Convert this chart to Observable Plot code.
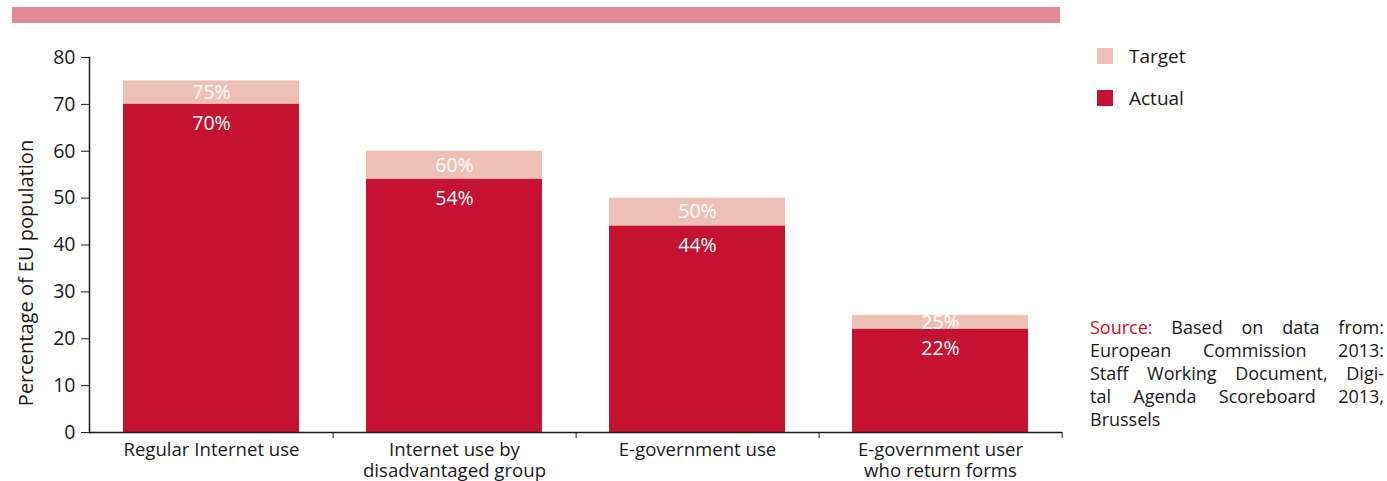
<!DOCTYPE html>
<html>
<head>
<meta charset="utf-8">
<script src="https://cdn.jsdelivr.net/npm/d3@7"></script>
<script src="https://cdn.jsdelivr.net/npm/@observablehq/plot@0.6"></script>
<style>
  html, body { margin: 0; padding: 0; background: #fff; }
  body { font-family: "Open Sans", "Noto Sans", sans-serif; color: #1a1a1a; }
  #wrap { position: relative; width: 1387px; height: 481px; overflow: hidden; }
  #topbar { position: absolute; left: 12px; top: 7px; width: 1048px; height: 16px; background: #e38a96; }
  #chart { position: absolute; left: 0; top: 0; }
  .leg { position: absolute; left: 1097px; font-size: 19px; display: flex; align-items: center; }
  .leg .sw { width: 16px; height: 16px; margin-right: 16px; }
  #source { position: absolute; left: 1090px; top: 316px; width: 294px; font-size: 18px; line-height: 23px; }
  #source div { text-align: justify; text-align-last: justify; white-space: nowrap; }
  #source div.last { text-align-last: left; }
  #source .red { color: #c8102e; }
</style>
</head>
<body>
<div id="wrap">
  <div id="topbar"></div>
  <div id="chart"></div>
  <div class="leg" style="top:43px"><div class="sw" style="background:#eebfb5"></div><span>Target</span></div>
  <div class="leg" style="top:85px"><div class="sw" style="background:#c41230"></div><span>Actual</span></div>
  <div id="source">
    <div><span class="red">Source:</span> Based on data from:</div>
    <div>European Commission 2013:</div>
    <div>Staff Working Document, Digi-</div>
    <div>tal Agenda Scoreboard 2013,</div>
    <div class="last">Brussels</div>
  </div>
</div>
<script>
const categories = [
  "Regular Internet use",
  "Internet use by\ndisadvantaged group",
  "E-government use",
  "E-government user\nwho return forms"
];
const targetValues = [75, 60, 50, 25];
const actualValues = [70, 54, 44, 22];
const yTicks = [0, 10, 20, 30, 40, 50, 60, 70, 80];
const yLabel = "Percentage of EU population";

const data = categories.map((c, i) => ({cat: c, target: targetValues[i], actual: actualValues[i]}));

const W = 1387, H = 481;
const mL = 89, mR = 325, mT = 57, mB = 49;
const halfStep = (W - mL - mR) / categories.length / 2;

const chart = Plot.plot({
  width: W,
  height: H,
  marginLeft: mL,
  marginRight: mR,
  marginTop: mT,
  marginBottom: mB,
  style: {fontFamily: "'Open Sans', 'Noto Sans', sans-serif", fontSize: "19px", color: "#1a1a1a", background: "transparent", overflow: "visible"},
  x: {domain: categories, paddingInner: 0.276, paddingOuter: 0.138},
  y: {domain: [0, 80]},
  marks: [
    Plot.barY(data, {x: "cat", y: "target", fill: "#eebfb5"}),
    Plot.barY(data, {x: "cat", y: "actual", fill: "#c41230"}),
    Plot.text(data, {x: "cat", y: d => (d.target + d.actual) / 2, text: d => d.target + "%", fill: "white", fontSize: 19.5, lineAnchor: "middle"}),
    Plot.text(data, {x: "cat", y: "actual", text: d => d.actual + "%", fill: "white", fontSize: 19.5, lineAnchor: "middle", dy: 19}),
    Plot.axisY({ticks: yTicks, tickSize: 8, tickPadding: 6, stroke: "#1a1a1a", fontSize: 19.5, label: null}),
    Plot.text([yLabel], {text: d => d, frameAnchor: "left", textAnchor: "middle", rotate: -90, dx: -63, dy: 28, fontSize: 20, fill: "#1a1a1a", lineAnchor: "middle"}),
    Plot.axisX({tickSize: 0, tickPadding: 8, label: null, lineHeight: 1.15, fontSize: 18.6}),
    Plot.axisX({tickSize: 6, text: null, label: null, dx: halfStep, stroke: "#1a1a1a"}),
    Plot.ruleY([0], {stroke: "#1a1a1a", strokeWidth: 1.5}),
    Plot.frame({anchor: "left", stroke: "#1a1a1a", strokeWidth: 1.5})
  ]
});
document.getElementById("chart").appendChild(chart);
</script>
</body>
</html>
